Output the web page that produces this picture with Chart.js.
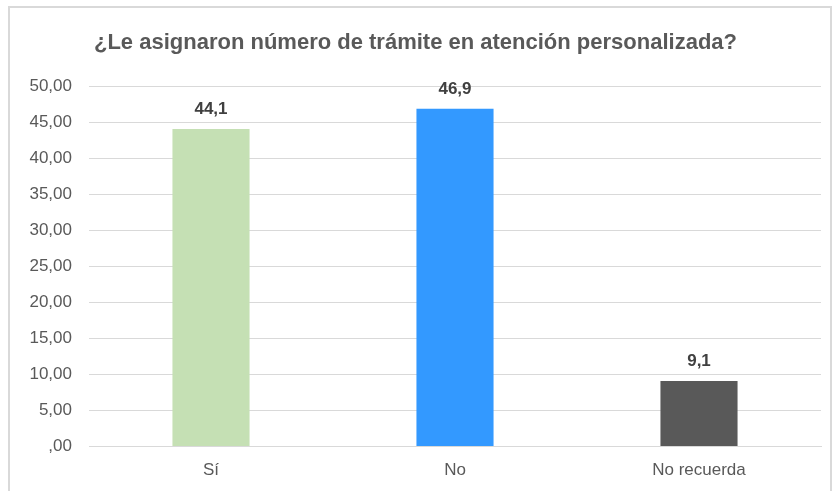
<!DOCTYPE html>
<html>
<head>
<meta charset="utf-8">
<script src="https://cdn.jsdelivr.net/npm/chart.js@4"></script>
<style>
  body { margin: 0; background: #fff; }
  #frame { position: absolute; left: 8px; top: 6px; width: 824px; height: 520px; border: 2px solid #d9d9d9; box-sizing: border-box; }
  #wrap { position: absolute; left: 0; top: 0; width: 840px; height: 491px; }
</style>
</head>
<body>
<div id="frame"></div>
<div id="wrap"><canvas id="chart"></canvas></div>
<script>
const categories = ['Sí', 'No', 'No recuerda'];
const values = [44.1, 46.9, 9.1];
const barColors = ['#c5e0b4', '#3399ff', '#595959'];

const fmtComma = (v, d) => {
    const s = v.toFixed(d).replace('.', ',');
    return s.startsWith('0,') ? s.slice(1) : s;
};

const barLabels = {
    id: 'barLabels',
    afterDatasetsDraw(chart) {
        const ctx = chart.ctx;
        const meta = chart.getDatasetMeta(0);
        ctx.save();
        ctx.font = 'bold 17px "Liberation Sans", Arial, sans-serif';
        ctx.fillStyle = '#404040';
        ctx.textAlign = 'center';
        ctx.textBaseline = 'alphabetic';
        meta.data.forEach((bar, i) => {
            ctx.fillText(fmtComma(values[i], 1), bar.x, bar.y - 15);
        });
        ctx.restore();
    }
};

new Chart(document.getElementById('chart').getContext('2d'), {
    type: 'bar',
    data: {
        labels: categories,
        datasets: [{
            data: values,
            backgroundColor: barColors,
            categoryPercentage: 1,
            barPercentage: 0.316
        }]
    },
    options: {
        responsive: true,
        maintainAspectRatio: false,
        animation: false,
        layout: { padding: { left: 10, right: 19, top: 0, bottom: 4 } },
        plugins: {
            legend: { display: false },
            tooltip: { enabled: false },
            title: {
                display: true,
                text: '¿Le asignaron número de trámite en atención personalizada?',
                color: '#595959',
                font: { family: '"Liberation Sans", Arial, sans-serif', size: 22, weight: 'bold' },
                padding: { top: 30, bottom: 30 }
            }
        },
        scales: {
            x: {
                grid: { display: false },
                border: { color: '#d9d9d9', width: 1 },
                ticks: {
                    color: '#595959',
                    padding: 6,
                    font: { family: '"Liberation Sans", Arial, sans-serif', size: 17 }
                }
            },
            y: {
                min: 0,
                max: 50,
                afterFit(scale) { scale.width = 79; },
                grid: { color: '#d9d9d9', drawTicks: false },
                border: { display: false },
                ticks: {
                    stepSize: 5,
                    color: '#595959',
                    padding: 17,
                    font: { family: '"Liberation Sans", Arial, sans-serif', size: 17 },
                    callback: v => fmtComma(v, 2)
                }
            }
        }
    },
    plugins: [barLabels]
});
</script>
</body>
</html>
